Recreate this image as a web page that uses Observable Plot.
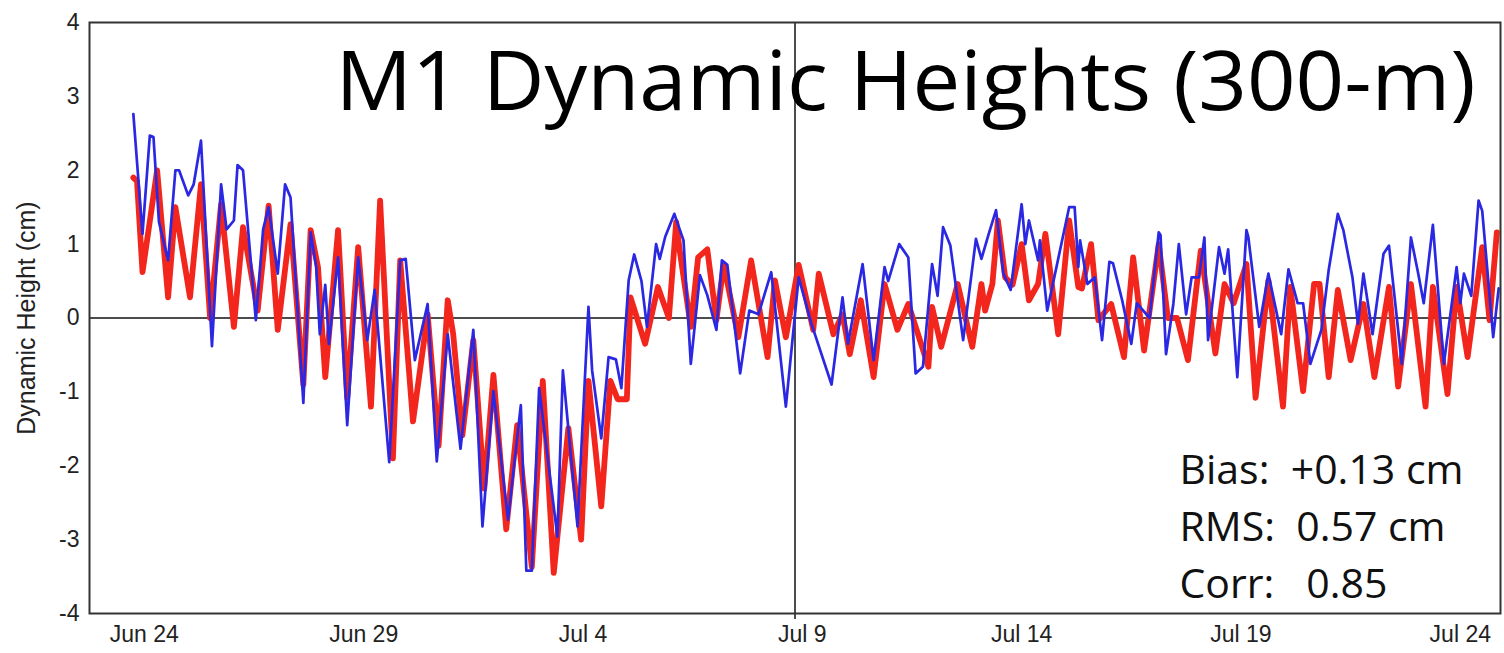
<!DOCTYPE html>
<html>
<head>
<meta charset="utf-8">
<script src="https://cdn.jsdelivr.net/npm/d3@7"></script>
<script src="https://cdn.jsdelivr.net/npm/@observablehq/plot@0.6"></script>
<style>
  html, body { margin: 0; padding: 0; background: #fff; }
</style>
</head>
<body>
<div id="chart"></div>
<script>
// Time base: samples are given as hours after the first sample.
const firstSample = Date.UTC(2014, 5, 23, 18);          // Jun 23 18:00 UTC
const axisDomain = [Date.UTC(2014, 5, 22, 18), Date.UTC(2014, 6, 24, 22)];
const forecastStart = Date.UTC(2014, 6, 8, 20);         // vertical marker
const xTickDates = ["2014-06-24", "2014-06-29", "2014-07-04", "2014-07-09",
                    "2014-07-14", "2014-07-19", "2014-07-24"];
const yTicks = [-4, -3, -2, -1, 0, 1, 2, 3, 4];

const titleText = "M1 Dynamic Heights (300-m)";
const yLabel = "Dynamic Height (cm)";
const statLines = ["Bias:\u00a0 +0.13 cm", "RMS:\u00a0 0.57 cm", "Corr:\u00a0\u00a0 0.85"];

// [hours after first sample, dynamic height in cm]
const redSeries = [
  [0,1.9],[2,1.85],[5,0.62],[13,2.0],[19,0.28],[23,1.5],[31,0.28],[37,1.81],[42,0.0],[48,1.54],
  [55,-0.12],[60,1.23],[68,0.1],[74,1.52],[79,-0.16],[86,1.27],[93,-0.9],[97,1.19],[101,0.69],[105,-0.8],
  [112,1.19],[117,-1.08],[123,0.96],[130,-1.2],[135,1.59],[142,-1.9],[146,0.78],[153,-1.4],[161,0.05],[167,-1.73],
  [172,0.24],[175,-0.22],[180,-1.59],[186,-0.3],[192,-2.31],[197,-0.77],[204,-2.86],[210,-1.45],[218,-3.37],[224,-0.85],
  [230,-3.45],[238,-1.49],[245,-3.0],[249,-0.85],[256,-2.55],[261,-0.85],[265,-1.1],[270,-1.1],[272,0.28],[280,-0.35],
  [287,0.42],[293,0.0],[297,1.3],[299,0.9],[305,-0.12],[309,0.82],[314,0.93],[319,-0.03],[323,0.73],[331,-0.26],
  [338,0.78],[347,-0.53],[351,0.51],[357,-0.26],[364,0.72],[372,-0.16],[375,0.6],[383,-0.22],[388,0.05],[392,-0.49],
  [398,0.24],[405,-0.8],[411,0.46],[418,-0.16],[424,0.19],[435,-0.66],[437,0.15],[442,-0.39],[451,0.46],[459,-0.39],
  [464,0.46],[466,0.1],[470,0.46],[473,1.32],[477,0.55],[481,0.45],[486,1.0],[490,0.24],[495,0.46],[499,1.14],
  [506,-0.22],[512,1.32],[517,0.42],[519,0.4],[524,1.0],[528,-0.03],[535,0.19],[542,-0.53],[547,0.82],[553,-0.44],
  [561,1.0],[566,0.0],[571,0.0],[577,-0.57],[584,0.91],[592,-0.48],[597,0.46],[602,0.2],[609,0.73],[614,-1.08],
  [621,0.51],[629,-1.2],[633,0.42],[640,-0.99],[646,0.46],[649,0.46],[654,-0.8],[659,0.38],[666,-0.57],[673,0.19],
  [679,-0.8],[687,0.42],[692,-0.93],[699,0.46],[707,-1.2],[711,0.42],[719,-1.03],[724,0.42],[730,-0.53],[738,0.96],
  [742,-0.03],[746,1.16]
];

const blueSeries = [
  [0,2.76],[5,1.14],[9,2.47],[11,2.45],[14,1.3],[19,0.78],[23,2.0],[25,2.0],[30,1.66],[33,1.81],
  [37,2.4],[43,-0.38],[48,1.81],[51,1.2],[55,1.32],[57,2.07],[60,2.0],[67,-0.03],[71,1.2],[74,1.5],
  [79,0.6],[83,1.81],[86,1.63],[93,-1.15],[97,1.16],[100,0.69],[102,-0.22],[105,0.45],[107,-0.35],[112,0.82],
  [117,-1.45],[123,0.82],[128,-0.3],[132,0.38],[140,-1.95],[146,0.78],[149,0.8],[154,-0.57],[161,0.19],[166,-1.94],
  [172,-0.22],[179,-1.77],[186,-0.16],[191,-2.82],[197,-0.99],[205,-2.73],[212,-1.18],[215,-3.42],[218,-3.42],[222,-0.95],
  [232,-2.96],[235,-0.71],[243,-2.82],[249,0.15],[251,-0.71],[256,-1.63],[260,-0.53],[264,-0.56],[267,-0.95],[271,0.51],
  [274,0.86],[278,0.5],[281,-0.12],[286,1.0],[288,0.8],[291,1.1],[296,1.41],[301,1.05],[305,-0.62],[310,0.58],
  [314,0.31],[319,-0.16],[322,0.78],[325,0.72],[332,-0.75],[337,0.1],[342,0.05],[349,0.62],[357,-1.2],[364,0.55],
  [371,-0.08],[382,-0.9],[388,0.28],[391,-0.35],[399,0.73],[405,-0.57],[411,0.69],[413,0.5],[419,1.0],[424,0.82],
  [428,-0.75],[432,-0.66],[437,0.73],[440,0.3],[443,1.23],[447,0.98],[454,-0.3],[461,1.07],[464,0.8],[468,1.14],
  [472,1.46],[476,0.6],[480,0.38],[486,1.54],[488,1.0],[490,1.32],[495,0.78],[496,1.05],[500,0.1],[512,1.5],
  [515,1.5],[517,0.69],[518,1.05],[522,0.46],[526,0.55],[530,-0.3],[534,0.76],[536,0.74],[541,0.24],[546,-0.35],
  [549,0.2],[556,0.0],[561,1.16],[562,1.12],[565,-0.49],[569,0.19],[572,1.0],[576,0.05],[579,0.55],[583,0.55],
  [586,1.09],[588,-0.3],[594,0.96],[597,0.6],[599,0.93],[604,-0.8],[609,1.19],[610,1.1],[616,-0.12],[621,0.6],
  [628,-0.22],[632,0.66],[637,0.2],[640,0.2],[644,-0.62],[650,-0.16],[654,0.65],[659,1.41],[662,1.19],[667,0.55],
  [670,-0.08],[673,0.6],[678,-0.22],[684,0.87],[687,0.98],[694,-0.62],[699,1.09],[703,0.6],[706,0.2],[711,1.26],
  [717,-0.62],[724,0.69],[726,0.2],[728,0.6],[732,0.3],[736,1.59],[738,1.45],[744,-0.26],[747,0.4]
];

const toRows = (series) => series.map(([h, v]) => ({time: new Date(firstSample + h * 3600e3), value: v}));
const redRows = toRows(redSeries);
const blueRows = toRows(blueSeries);

const chart = Plot.plot({
  width: 1504,
  height: 653,
  marginTop: 22,
  marginBottom: 40,
  marginLeft: 89,
  marginRight: 4,
  style: {fontFamily: "'Liberation Sans', Arial, sans-serif", fontSize: "23px", color: "#222", background: "#fff"},
  x: {type: "utc", domain: axisDomain.map((t) => new Date(t))},
  y: {domain: [-4, 4]},
  marks: [
    Plot.ruleY([0], {stroke: "#111", strokeWidth: 1.5}),
    Plot.ruleX([new Date(forecastStart)], {stroke: "#111", strokeWidth: 1.5, insetBottom: -6}),
    Plot.line(redRows, {x: "time", y: "value", stroke: "#f2261c", strokeWidth: 5.8, strokeLinejoin: "round"}),
    Plot.line(blueRows, {x: "time", y: "value", stroke: "#2a28e2", strokeWidth: 2.7, strokeLinejoin: "round"}),
    Plot.frame({stroke: "#333", strokeWidth: 2}),
    Plot.axisX({
      ticks: xTickDates.map((d) => new Date(d)),
      tickFormat: d3.utcFormat("%b %-d"),
      tickSize: 0, tickPadding: 12, label: null
    }),
    Plot.axisY({ticks: yTicks, tickFormat: (d) => String(d), tickSize: 0, tickPadding: 10, label: null}),
    Plot.text([yLabel], {
      frameAnchor: "left", textAnchor: "middle", lineAnchor: "middle",
      dx: -63, rotate: -90, fontSize: 25, fill: "#222"
    }),
    Plot.text([titleText], {
      frameAnchor: "top-right", textAnchor: "end", lineAnchor: "top",
      dx: -25, dy: 29, fontSize: 82, fontFamily: "'Open Sans', sans-serif", fill: "#000"
    }),
    Plot.text([statLines.join("\n")], {
      frameAnchor: "bottom-right", textAnchor: "start", lineAnchor: "bottom",
      dx: -321, dy: -16, fontSize: 41, lineHeight: 1.39, fontFamily: "'Open Sans', sans-serif", fill: "#111"
    })
  ]
});

// Fit the headline to its width.
d3.select(chart).selectAll("text")
  .filter(function () { return this.textContent === titleText; })
  .attr("textLength", 1140)
  .attr("lengthAdjust", "spacingAndGlyphs");

document.getElementById("chart").appendChild(chart);
</script>
</body>
</html>
